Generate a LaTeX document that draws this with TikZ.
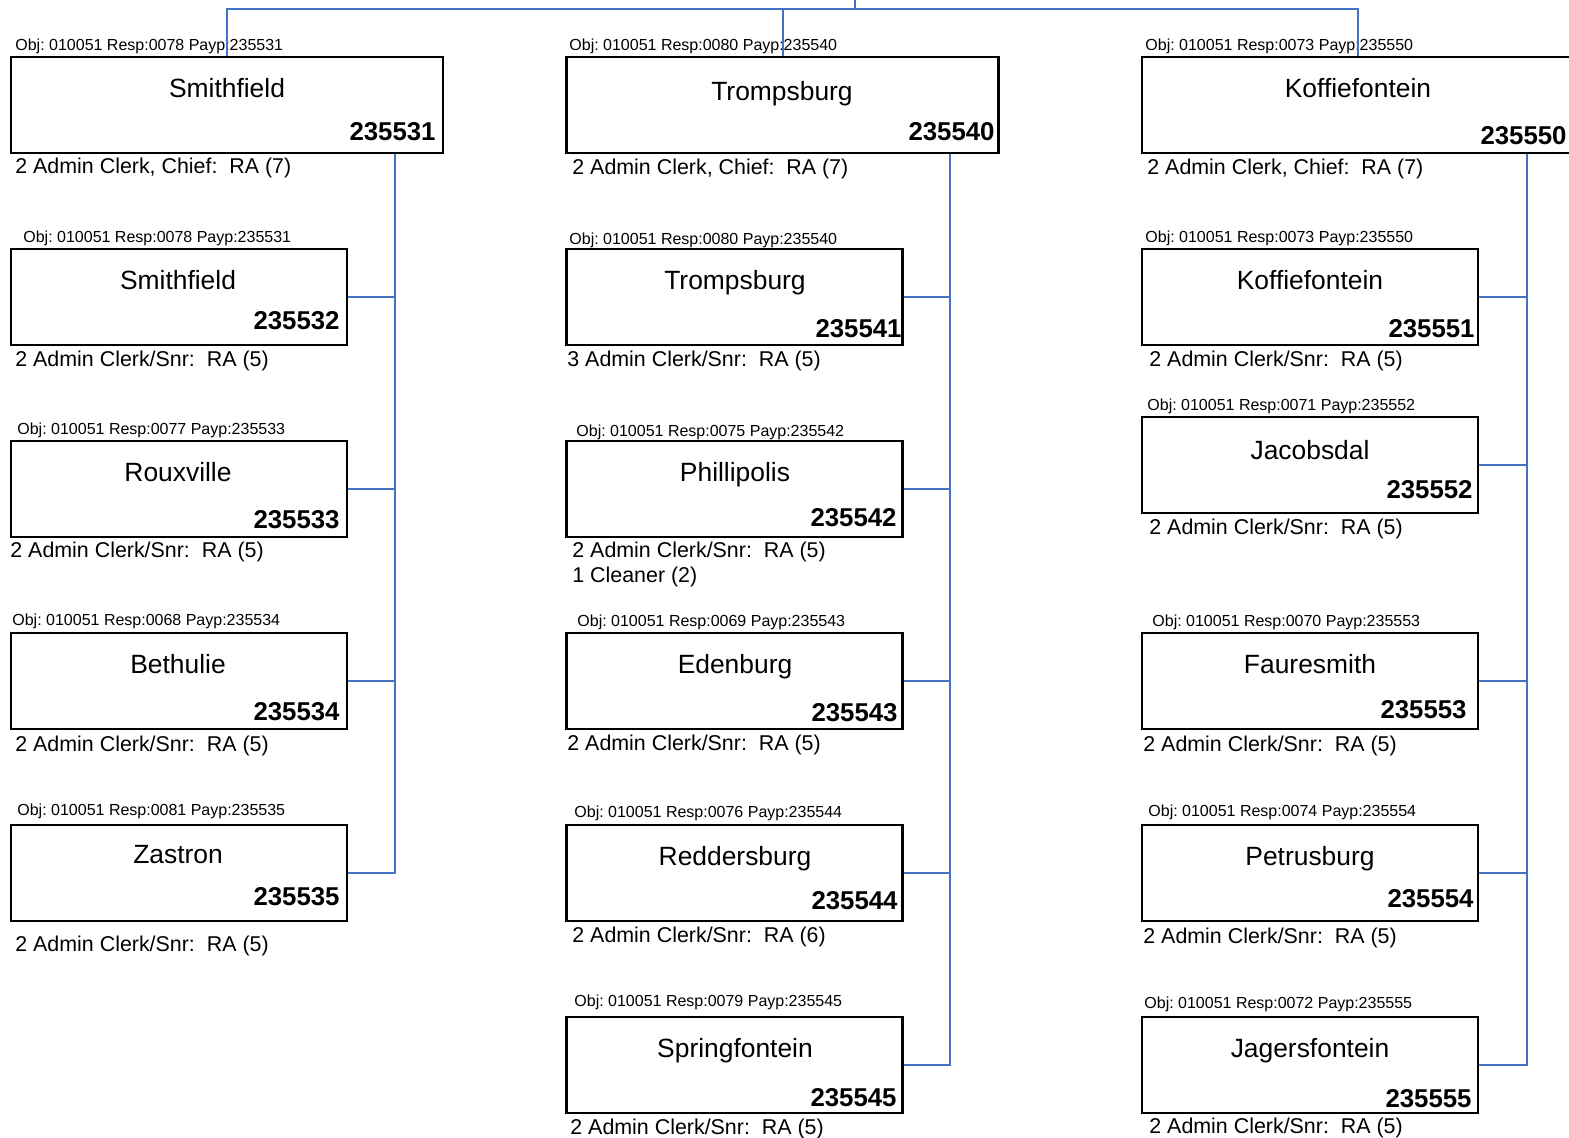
\documentclass[tikz,border=0pt]{standalone}
\usepackage{fontspec}
\setmainfont{Liberation Sans}
\usepackage{tikz}
\usetikzlibrary{calc}
\definecolor{linkblue}{RGB}{68,114,196}
\frenchspacing

\begin{document}
\begin{tikzpicture}[
  x=0.5pt, y=-0.5pt,
  % Box styles
  box/.style={draw, line width=1.1pt, inner sep=0pt, minimum height=48pt},
  hqbox/.style={box, minimum width=216pt},
  subbox/.style={box, minimum width=168pt},
  % Text styles
  objline/.style={anchor=west, inner sep=0pt, yshift=-0.75pt, font=\fontsize{8}{9.6}\selectfont},
  town/.style={inner sep=0pt, font=\fontsize{13.2}{16}\selectfont},
  paycode/.style={anchor=east, inner sep=0pt, yshift=-1pt, font=\fontsize{12.9}{15}\selectfont\bfseries},
  staff/.style={anchor=west, inner sep=0pt, yshift=-1.5pt, align=left, font=\fontsize{10.7}{12.5}\selectfont},
  % Connector style
  link/.style={draw=linkblue, line width=1pt}
]

% page frame (chart is cut at the right edge)
\useasboundingbox (0,0) rectangle (1569,1137);
\clip (0,0) rectangle (1569,1137);

% =========================
% Left column: Smithfield
% =========================
\node[hqbox]   (L_hq) at (227,105) {};
\node[objline] (L_hq_obj)  at (15,45)   {Obj: 010051 Resp:0078 Payp:235531};
\node[town]    (L_hq_name) at (227,88)  {Smithfield};
\node[paycode] (L_hq_code) at (436,130) {235531};
\node[staff]   (L_hq_staff) at (15,165) {2 Admin Clerk, Chief:\ \ RA (7)};

\node[subbox]  (L_s1) at (179,297) {};
\node[objline] (L_s1_obj)  at (23,237)  {Obj: 010051 Resp:0078 Payp:235531};
\node[town]    (L_s1_name) at (178,280) {Smithfield};
\node[paycode] (L_s1_code) at (340,319) {235532};
\node[staff]   (L_s1_staff) at (15,358) {2 Admin Clerk/Snr:\ \ RA (5)};

\node[subbox]  (L_s2) at (179,489) {};
\node[objline] (L_s2_obj)  at (17,429)  {Obj: 010051 Resp:0077 Payp:235533};
\node[town]    (L_s2_name) at (178,472) {Rouxville};
\node[paycode] (L_s2_code) at (340,518) {235533};
\node[staff]   (L_s2_staff) at (10,549) {2 Admin Clerk/Snr:\ \ RA (5)};

\node[subbox]  (L_s3) at (179,681) {};
\node[objline] (L_s3_obj)  at (12,620)  {Obj: 010051 Resp:0068 Payp:235534};
\node[town]    (L_s3_name) at (178,664) {Bethulie};
\node[paycode] (L_s3_code) at (340,710) {235534};
\node[staff]   (L_s3_staff) at (15,743) {2 Admin Clerk/Snr:\ \ RA (5)};

\node[subbox]  (L_s4) at (179,873) {};
\node[objline] (L_s4_obj)  at (17,810)  {Obj: 010051 Resp:0081 Payp:235535};
\node[town]    (L_s4_name) at (178,855) {Zastron};
\node[paycode] (L_s4_code) at (340,895) {235535};
\node[staff]   (L_s4_staff) at (15,943) {2 Admin Clerk/Snr:\ \ RA (5)};

% =========================
% Middle column: Trompsburg
% =========================
\node[hqbox]   (M_hq) at (782.5,105) {};
\node[objline] (M_hq_obj)  at (569,45)  {Obj: 010051 Resp:0080 Payp:235540};
\node[town]    (M_hq_name) at (782,94)  {Trompsburg};
\node[paycode] (M_hq_code) at (995,130) {235540};
\node[staff]   (M_hq_staff) at (572,166) {2 Admin Clerk, Chief:\ \ RA (7)};

\node[subbox]  (M_s1) at (734.5,297) {};
\node[objline] (M_s1_obj)  at (569,239) {Obj: 010051 Resp:0080 Payp:235540};
\node[town]    (M_s1_name) at (735,283) {Trompsburg};
\node[paycode] (M_s1_code) at (902,327) {235541};
\node[staff]   (M_s1_staff) at (567,358) {3 Admin Clerk/Snr:\ \ RA (5)};

\node[subbox]  (M_s2) at (734.5,489) {};
\node[objline] (M_s2_obj)  at (576,431) {Obj: 010051 Resp:0075 Payp:235542};
\node[town]    (M_s2_name) at (735,475) {Phillipolis};
\node[paycode] (M_s2_code) at (897,516) {235542};
\node[staff]   (M_s2_staff) at (572,561) {2 Admin Clerk/Snr:\ \ RA (5)\\1 Cleaner (2)};

\node[subbox]  (M_s3) at (734.5,681) {};
\node[objline] (M_s3_obj)  at (577,621) {Obj: 010051 Resp:0069 Payp:235543};
\node[town]    (M_s3_name) at (735,667) {Edenburg};
\node[paycode] (M_s3_code) at (898,711) {235543};
\node[staff]   (M_s3_staff) at (567,742) {2 Admin Clerk/Snr:\ \ RA (5)};

\node[subbox]  (M_s4) at (734.5,873) {};
\node[objline] (M_s4_obj)  at (574,812) {Obj: 010051 Resp:0076 Payp:235544};
\node[town]    (M_s4_name) at (735,859) {Reddersburg};
\node[paycode] (M_s4_code) at (898,899) {235544};
\node[staff]   (M_s4_staff) at (572,934) {2 Admin Clerk/Snr:\ \ RA (6)};

\node[subbox]  (M_s5) at (734.5,1065) {};
\node[objline] (M_s5_obj)  at (574,1001) {Obj: 010051 Resp:0079 Payp:235545};
\node[town]    (M_s5_name) at (735,1051) {Springfontein};
\node[paycode] (M_s5_code) at (897,1096) {235545};
\node[staff]   (M_s5_staff) at (570,1126) {2 Admin Clerk/Snr:\ \ RA (5)};

% =========================
% Right column: Koffiefontein
% =========================
\node[hqbox]   (R_hq) at (1358,105) {};
\node[objline] (R_hq_obj)  at (1145,45)  {Obj: 010051 Resp:0073 Payp:235550};
\node[town]    (R_hq_name) at (1358,88)  {Koffiefontein};
\node[paycode] (R_hq_code) at (1567,134) {235550};
\node[staff]   (R_hq_staff) at (1147,166) {2 Admin Clerk, Chief:\ \ RA (7)};

\node[subbox]  (R_s1) at (1310,297) {};
\node[objline] (R_s1_obj)  at (1145,237) {Obj: 010051 Resp:0073 Payp:235550};
\node[town]    (R_s1_name) at (1310,280) {Koffiefontein};
\node[paycode] (R_s1_code) at (1475,327) {235551};
\node[staff]   (R_s1_staff) at (1149,358) {2 Admin Clerk/Snr:\ \ RA (5)};

\node[subbox]  (R_s2) at (1310,465) {};
\node[objline] (R_s2_obj)  at (1147,405) {Obj: 010051 Resp:0071 Payp:235552};
\node[town]    (R_s2_name) at (1310,450) {Jacobsdal};
\node[paycode] (R_s2_code) at (1473,488) {235552};
\node[staff]   (R_s2_staff) at (1149,526) {2 Admin Clerk/Snr:\ \ RA (5)};

\node[subbox]  (R_s3) at (1310,681) {};
\node[objline] (R_s3_obj)  at (1152,621) {Obj: 010051 Resp:0070 Payp:235553};
\node[town]    (R_s3_name) at (1310,664) {Fauresmith};
\node[paycode] (R_s3_code) at (1467,708) {235553};
\node[staff]   (R_s3_staff) at (1143,743) {2 Admin Clerk/Snr:\ \ RA (5)};

\node[subbox]  (R_s4) at (1310,873) {};
\node[objline] (R_s4_obj)  at (1148,811) {Obj: 010051 Resp:0074 Payp:235554};
\node[town]    (R_s4_name) at (1310,859) {Petrusburg};
\node[paycode] (R_s4_code) at (1474,897) {235554};
\node[staff]   (R_s4_staff) at (1143,935) {2 Admin Clerk/Snr:\ \ RA (5)};

\node[subbox]  (R_s5) at (1310,1065) {};
\node[objline] (R_s5_obj)  at (1144,1003) {Obj: 010051 Resp:0072 Payp:235555};
\node[town]    (R_s5_name) at (1310,1051) {Jagersfontein};
\node[paycode] (R_s5_code) at (1472,1097) {235555};
\node[staff]   (R_s5_staff) at (1149,1125) {2 Admin Clerk/Snr:\ \ RA (5)};

% ------------------------------------------------------------
% Connectors
% ------------------------------------------------------------
\coordinate (root)   at (855,0);
\coordinate (root_j) at (855,9);
\coordinate (L_bus)  at (395,0);
\coordinate (M_bus)  at (950,0);
\coordinate (R_bus)  at (1527,0);

% top level
\draw[link] (root) -- (root_j);
\draw[link] (L_hq.north) |- (root_j);
\draw[link] (R_hq.north) |- (root_j);
\draw[link] (M_hq.north) -- (M_hq.north |- root_j);

% left column
\draw[link] (L_hq.south -| L_bus) |- (L_s4.east);
\draw[link] (L_s1.east) -- (L_s1.east -| L_bus);
\draw[link] (L_s2.east) -- (L_s2.east -| L_bus);
\draw[link] (L_s3.east) -- (L_s3.east -| L_bus);

% middle column
\draw[link] (M_hq.south -| M_bus) |- (M_s5.east);
\draw[link] (M_s1.east) -- (M_s1.east -| M_bus);
\draw[link] (M_s2.east) -- (M_s2.east -| M_bus);
\draw[link] (M_s3.east) -- (M_s3.east -| M_bus);
\draw[link] (M_s4.east) -- (M_s4.east -| M_bus);

% right column
\draw[link] (R_hq.south -| R_bus) |- (R_s5.east);
\draw[link] (R_s1.east) -- (R_s1.east -| R_bus);
\draw[link] (R_s2.east) -- (R_s2.east -| R_bus);
\draw[link] (R_s3.east) -- (R_s3.east -| R_bus);
\draw[link] (R_s4.east) -- (R_s4.east -| R_bus);

\end{tikzpicture}
\end{document}
